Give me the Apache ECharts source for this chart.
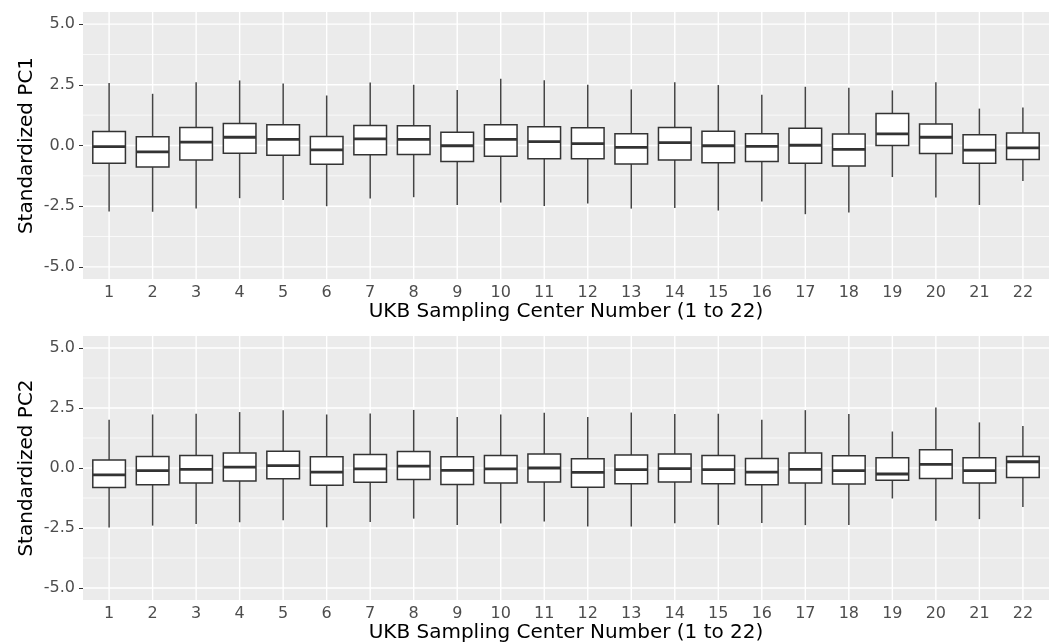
<!DOCTYPE html>
<html>
<head>
<meta charset="utf-8">
<script src="https://cdn.jsdelivr.net/npm/echarts@6/dist/echarts.min.js"></script>
<style>
html,body{margin:0;padding:0;background:#fff;}
#chart{width:1049px;height:644px;}
</style>
</head>
<body>
<div id="chart"></div>
<script>
// ---- Data ----
const categories = [1,2,3,4,5,6,7,8,9,10,11,12,13,14,15,16,17,18,19,20,21,22];
const yMajorTicks = [-5, -2.5, 0, 2.5, 5];
const yMinorTicks = [-3.75, -1.25, 1.25, 3.75];

// PC1 (top panel)
const pc1Min = [-2.72,-2.73,-2.60,-2.17,-2.25,-2.50,-2.18,-2.13,-2.45,-2.35,-2.49,-2.39,-2.60,-2.58,-2.68,-2.31,-2.83,-2.76,-1.30,-2.14,-2.45,-1.46];
const pc1Q1  = [-0.73,-0.89,-0.60,-0.32,-0.40,-0.77,-0.38,-0.37,-0.66,-0.44,-0.55,-0.55,-0.76,-0.60,-0.71,-0.66,-0.73,-0.84,0.00,-0.33,-0.73,-0.58];
const pc1Med = [-0.05,-0.26,0.14,0.34,0.25,-0.18,0.27,0.25,-0.01,0.25,0.16,0.08,-0.08,0.12,-0.01,-0.04,0.01,-0.16,0.48,0.34,-0.19,-0.10];
const pc1Q3  = [0.58,0.36,0.74,0.91,0.85,0.37,0.82,0.81,0.55,0.85,0.77,0.73,0.48,0.74,0.59,0.48,0.71,0.47,1.32,0.89,0.44,0.51];
const pc1Max = [2.57,2.13,2.61,2.68,2.55,2.06,2.60,2.50,2.29,2.75,2.69,2.50,2.31,2.61,2.49,2.09,2.42,2.38,2.27,2.61,1.52,1.57];

// PC2 (bottom panel)
const pc2Min = [-2.48,-2.40,-2.33,-2.26,-2.18,-2.47,-2.25,-2.11,-2.37,-2.31,-2.23,-2.44,-2.44,-2.30,-2.37,-2.29,-2.38,-2.37,-1.27,-2.20,-2.13,-1.63];
const pc2Q1  = [-0.81,-0.70,-0.62,-0.54,-0.45,-0.72,-0.59,-0.48,-0.69,-0.62,-0.58,-0.80,-0.66,-0.58,-0.66,-0.70,-0.62,-0.67,-0.51,-0.44,-0.62,-0.40];
const pc2Med = [-0.29,-0.11,-0.06,0.04,0.10,-0.17,-0.04,0.08,-0.10,-0.04,0.00,-0.18,-0.07,-0.03,-0.07,-0.17,-0.06,-0.11,-0.25,0.15,-0.11,0.26];
const pc2Q3  = [0.33,0.48,0.52,0.62,0.70,0.47,0.56,0.69,0.47,0.52,0.58,0.39,0.54,0.58,0.52,0.40,0.62,0.51,0.43,0.76,0.43,0.48];
const pc2Max = [2.01,2.23,2.26,2.33,2.41,2.23,2.27,2.42,2.13,2.23,2.30,2.12,2.31,2.25,2.26,2.01,2.41,2.25,1.52,2.52,1.90,1.75];

const xTitle = 'UKB Sampling Center Number (1 to 22)';
const yTitles = ['Standardized PC1', 'Standardized PC2'];

// ---- Build ----
const FONT = 'DejaVu Sans';
const chart = echarts.init(document.getElementById('chart'), null, {renderer: 'canvas'});

function boxData(mn, q1, md, q3, mx) {
  return categories.map((c, i) => [c, mn[i], q1[i], md[i], q3[i], mx[i]]);
}

function renderBox(params, api) {
  const x = api.value(0);
  const lo = api.coord([x, api.value(1)]);
  const q1 = api.coord([x, api.value(2)]);
  const md = api.coord([x, api.value(3)]);
  const q3 = api.coord([x, api.value(4)]);
  const hi = api.coord([x, api.value(5)]);
  const bw = api.size([0.75, 0])[0];
  const cx = lo[0];
  const stroke = '#333333';
  return {
    type: 'group',
    children: [
      {type: 'line', shape: {x1: cx, y1: hi[1], x2: cx, y2: q3[1]}, style: {stroke: '#444444', lineWidth: 1.5}},
      {type: 'line', shape: {x1: cx, y1: q1[1], x2: cx, y2: lo[1]}, style: {stroke: '#444444', lineWidth: 1.5}},
      {type: 'rect', shape: {x: cx - bw / 2, y: q3[1], width: bw, height: q1[1] - q3[1]},
        style: {fill: '#ffffff', stroke: stroke, lineWidth: 1.5}},
      {type: 'line', shape: {x1: cx - bw / 2, y1: md[1], x2: cx + bw / 2, y2: md[1]},
        style: {stroke: stroke, lineWidth: 2.8}}
    ]
  };
}

// grid lines: item = [orientation (0 = horizontal, 1 = vertical), value, major(1)/minor(0)]
function gridLineData() {
  const d = [];
  yMinorTicks.forEach(v => d.push([0, v, 0]));
  yMajorTicks.forEach(v => d.push([0, v, 1]));
  categories.forEach(v => d.push([1, v, 1]));
  return d;
}
function renderGridLine(params, api) {
  const cs = params.coordSys;
  const orient = api.value(0);
  const v = api.value(1);
  const major = api.value(2) === 1;
  const style = {stroke: '#ffffff', lineWidth: major ? 1.4 : 0.7};
  if (orient === 0) {
    const y = api.coord([1, v])[1];
    return {type: 'line', shape: {x1: cs.x, y1: y, x2: cs.x + cs.width, y2: y}, style: style};
  } else {
    const x = api.coord([v, 0])[0];
    return {type: 'line', shape: {x1: x, y1: cs.y, x2: x, y2: cs.y + cs.height}, style: style};
  }
}

const grids = [
  {left: 83, top: 12, width: 976, height: 267},
  {left: 83, top: 336, width: 976, height: 267}
].map(g => Object.assign({show: true, backgroundColor: '#EBEBEB', borderWidth: 0, containLabel: false}, g));

function xAxis(idx) {
  return {
    type: 'value', gridIndex: idx, min: 0.4, max: 22.6,
    name: xTitle, nameLocation: 'middle', nameGap: 23, nameMoveOverlap: false,
    nameTextStyle: {fontFamily: FONT, fontSize: 20, color: '#000000'},
    axisLine: {show: false},
    axisTick: {show: true, length: 4, lineStyle: {color: '#333333', width: 1}, customValues: categories},
    axisLabel: {show: true, margin: 6, fontFamily: FONT, fontSize: 16, color: '#4D4D4D', customValues: categories},
    splitLine: {show: false}
  };
}
function yAxis(idx) {
  return {
    type: 'value', gridIndex: idx, min: -5.5, max: 5.5,
    name: yTitles[idx], nameLocation: 'middle', nameGap: 46, nameRotate: 90, nameMoveOverlap: false,
    nameTextStyle: {fontFamily: FONT, fontSize: 20, color: '#000000'},
    axisLine: {show: false},
    axisTick: {show: true, length: 4, lineStyle: {color: '#333333', width: 1}, customValues: yMajorTicks},
    axisLabel: {show: true, margin: 8, fontFamily: FONT, fontSize: 16, color: '#4D4D4D',
      customValues: yMajorTicks, formatter: v => Number(v).toFixed(1)},
    splitLine: {show: false}
  };
}

const option = {
  animation: false,
  backgroundColor: '#ffffff',
  textStyle: {fontFamily: FONT},
  grid: grids,
  xAxis: [xAxis(0), xAxis(1)],
  yAxis: [yAxis(0), yAxis(1)],
  series: [
    {type: 'custom', xAxisIndex: 0, yAxisIndex: 0, z: 1, silent: true, renderItem: renderGridLine,
      data: gridLineData(), encode: {x: 1, y: 1}},
    {type: 'custom', xAxisIndex: 1, yAxisIndex: 1, z: 1, silent: true, renderItem: renderGridLine,
      data: gridLineData(), encode: {x: 1, y: 1}},
    {type: 'custom', name: 'PC1', xAxisIndex: 0, yAxisIndex: 0, z: 5, renderItem: renderBox,
      data: boxData(pc1Min, pc1Q1, pc1Med, pc1Q3, pc1Max), encode: {x: 0, y: [1, 2, 3, 4, 5]}},
    {type: 'custom', name: 'PC2', xAxisIndex: 1, yAxisIndex: 1, z: 5, renderItem: renderBox,
      data: boxData(pc2Min, pc2Q1, pc2Med, pc2Q3, pc2Max), encode: {x: 0, y: [1, 2, 3, 4, 5]}}
  ]
};
chart.setOption(option);
</script>
</body>
</html>
